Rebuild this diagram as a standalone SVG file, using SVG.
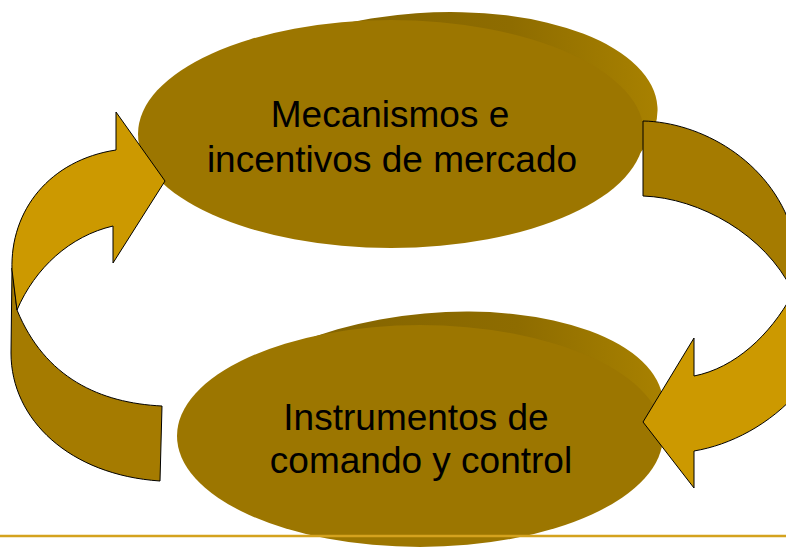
<svg xmlns="http://www.w3.org/2000/svg" width="786" height="547" viewBox="0 0 786 547">
  <style>
    .front { fill: #9c7600; }
    .label { font-family: "Liberation Sans", Arial, sans-serif; font-size: 37px; fill: #000; text-anchor: middle; }
    .arrow-light { fill: #cc9900; stroke: #000; stroke-width: 1; stroke-linejoin: miter; }
    .arrow-dark { fill: #a57b00; stroke: #000; stroke-width: 1; stroke-linejoin: miter; }
  </style>
  <defs>
    <linearGradient id="side" x1="0" y1="0" x2="1" y2="0">
      <stop offset="0" stop-color="#7e6000"/>
      <stop offset="0.7" stop-color="#8e6c00"/>
      <stop offset="1" stop-color="#a88100"/>
    </linearGradient>
  </defs>
  <rect width="786" height="547" fill="#ffffff"/>

  <g id="node-top">
    <ellipse cx="424" cy="123" rx="234" ry="110" transform="rotate(-4 424 123)" fill="url(#side)"/>
    <ellipse class="front" cx="391" cy="134" rx="253" ry="114"/>
    <text class="label" x="390" y="127">Mecanismos e</text>
    <text class="label" x="392" y="172">incentivos de mercado</text>
  </g>

  <g id="node-bottom">
    <ellipse cx="434" cy="421" rx="230" ry="108" transform="rotate(-5 434 421)" fill="url(#side)"/>
    <ellipse class="front" cx="420" cy="436" rx="243" ry="111"/>
    <text class="label" x="416" y="430">Instrumentos de</text>
    <text class="label" x="421" y="473">comando y control</text>
  </g>

  <g id="connectors">
    <!-- left arrow: bottom node to top node -->
    <path class="arrow-dark" d="M12,268 L11,353 C11,420 70,475 160,481 L162,406 C100,403 45,378 17,310 Z"/>
    <path class="arrow-light" d="M116,150 L116,112 L165,181 L113,263 L113,226 C70,236 35,268 17,310 L12,270 C10,210 50,160 116,150 Z"/>
    <!-- right arrow: top node to bottom node -->
    <path class="arrow-dark" d="M643,121 C700,122 770,160 792,230 L792,290 C765,235 700,198 643,196 Z"/>
    <path class="arrow-light" d="M792,295 C770,335 735,368 694,376 L694,338 L643,422 L694,488 L694,451 C730,445 770,425 800,390 L800,295 Z"/>
  </g>

  <line x1="0" y1="536" x2="786" y2="536" stroke="#d4a21e" stroke-width="2.5"/>
</svg>
